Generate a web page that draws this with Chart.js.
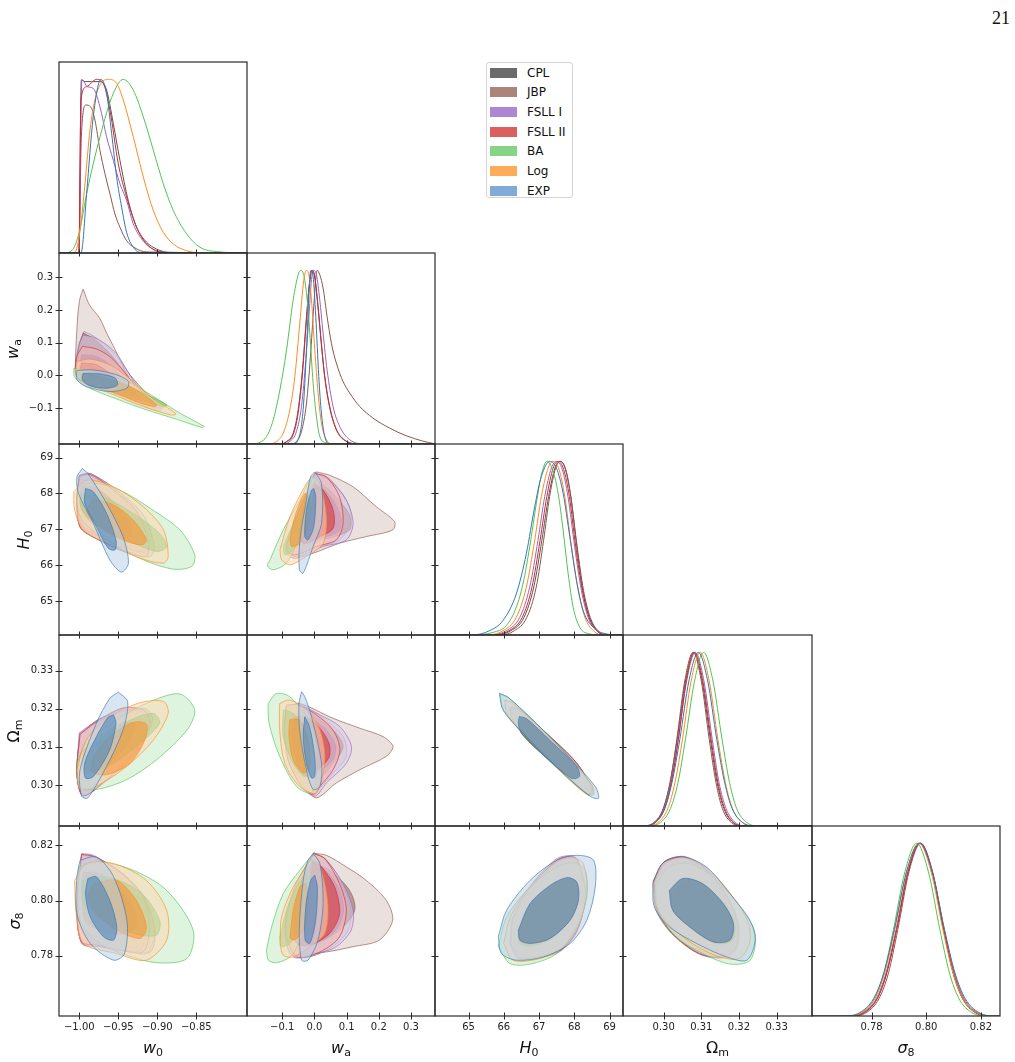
<!DOCTYPE html>
<html>
<head>
<meta charset="utf-8">
<script src="https://cdn.jsdelivr.net/npm/chart.js@4.4.1/dist/chart.umd.min.js"></script>
<style>
  body { margin: 0; background: #fff; font-family: "DejaVu Sans", sans-serif; }
  #page { position: relative; width: 1015px; height: 1062px; overflow: hidden; }
  canvas { position: absolute; }
  .lab { position: absolute; font-size: 16px; color: #111; white-space: nowrap; transform: translate(-50%, -50%); }
  .lab.rot { transform: translate(-50%, -50%) rotate(-90deg); }
  .lab sub { font-size: 11px; vertical-align: -3px; font-style: normal; }
  #pnum { position: absolute; right: 5px; top: 8px; font-family: "Liberation Serif", serif; font-size: 18px; color: #111; }
  #legend { position: absolute; left: 486px; top: 62px; width: 87px; height: 136px; box-sizing: border-box;
            border: 1px solid #d4d4d4; border-radius: 3px; font-size: 12px; color: #111; background: #fff; }
  #legend .row { height: 19.67px; display: flex; align-items: center; }
  #legend .sw { display: inline-block; width: 27px; height: 10px; margin: 0 10px 0 3px; }
</style>
</head>
<body>
<div id="page">
  <div id="pnum">21</div>
  <div id="legend"></div>
</div>
<script>
// models, drawn in this order (last one on top)
const models = ['CPL', 'JBP', 'FSLL I', 'FSLL II', 'BA', 'Log', 'EXP'];
const rgb = [[85,85,85], [140,86,75], [148,103,189], [214,39,40], [80,195,80], [255,138,31], [50,118,180]];
const legendColors = ['#6b6b6b', '#ad8479', '#ad87d6', '#dc5f5f', '#86d486', '#ffab5a', '#80abd6'];

// axis ranges and ticks
const w0Range = [-1.026, -0.785], waRange = [-0.2095, 0.3745], H0Range = [64.05, 69.38];
const OmRange = [0.2892, 0.3394], s8Range = [0.7582, 0.8270];
const w0Ticks = [-1.00, -0.95, -0.90, -0.85], w0Labels = ['\u22121.00', '\u22120.95', '\u22120.90', '\u22120.85'];
const waTicks = [-0.1, 0.0, 0.1, 0.2, 0.3], waLabels = ['\u22120.1', '0.0', '0.1', '0.2', '0.3'];
const H0Ticks = [65, 66, 67, 68, 69], H0Labels = ['65', '66', '67', '68', '69'];
const OmTicks = [0.30, 0.31, 0.32, 0.33], OmLabels = ['0.30', '0.31', '0.32', '0.33'];
const s8Ticks = [0.78, 0.80, 0.82], s8Labels = ['0.78', '0.80', '0.82'];

// 1D marginals: [x, y, x, y, ...], peak normalised to 1
const w0_1d = {
  'CPL': [-1.026,0, -1.0005,0, -0.9974,0.996, -0.9927,0.987, -0.9842,0.987, -0.9735,0.987, -0.965,0.938, -0.9564,0.746, -0.9479,0.534, -0.9372,0.302, -0.9265,0.148, -0.9137,0.062, -0.9009,0.023, -0.8838,0.002, -0.785,0],
  'JBP': [-1.026,0, -1.0005,0, -0.9974,0.669, -0.9915,0.852, -0.9855,0.842, -0.9799,0.765, -0.9735,0.592, -0.9671,0.457, -0.9607,0.341, -0.9543,0.225, -0.9479,0.148, -0.9393,0.071, -0.9286,0.029, -0.9137,0.006, -0.785,0],
  'FSLL I': [-1.026,0, -1.0005,0, -0.9966,1.0, -0.9897,0.958, -0.9821,0.948, -0.9735,0.842, -0.965,0.669, -0.9564,0.534, -0.9479,0.399, -0.9393,0.302, -0.9308,0.168, -0.9201,0.081, -0.9094,0.033, -0.8966,0.006, -0.785,0],
  'FSLL II': [-1.026,0, -1.0005,0, -0.9979,0.881, -0.9906,0.958, -0.9778,1.0, -0.9692,0.977, -0.9607,0.823, -0.95,0.514, -0.9393,0.322, -0.9265,0.148, -0.9137,0.052, -0.9009,0.013, -0.8838,0.002, -0.785,0],
  'BA': [-1.026,0, -1.0205,0, -1.0098,0.013, -1.0,0.12, -0.9906,0.341, -0.9735,0.669, -0.9564,0.919, -0.9436,1.0, -0.9308,0.938, -0.9179,0.784, -0.9051,0.592, -0.8923,0.399, -0.8795,0.245, -0.8624,0.110, -0.8453,0.033, -0.8239,0.008, -0.785,0],
  'Log': [-1.026,0, -1.012,0, -1.0056,0.004, -0.9991,0.129, -0.9927,0.399, -0.9863,0.707, -0.9778,0.919, -0.9628,1.0, -0.9521,0.977, -0.9436,0.881, -0.9308,0.669, -0.9179,0.437, -0.9051,0.245, -0.8923,0.119, -0.8795,0.052, -0.8624,0.013, -0.8453,0.002, -0.785,0],
  'EXP': [-1.026,0, -0.999,0, -0.997,0.01, -0.9906,0.341, -0.9821,0.784, -0.9722,1.0, -0.965,0.919, -0.9585,0.688, -0.9521,0.437, -0.9457,0.264, -0.9393,0.119, -0.9308,0.033, -0.9201,0.002, -0.785,0]
};
const wa_1d = {
  'CPL': [-0.2095,0, -0.1072,0, -0.0866,0.015, -0.066,0.063, -0.0505,0.198, -0.0371,0.428, -0.0247,0.735, -0.0144,0.946, -0.0072,1.0, 0.001,0.965, 0.0113,0.792, 0.0216,0.581, 0.032,0.390, 0.0474,0.217, 0.068,0.083, 0.099,0.015, 0.1402,0, 0.3745,0],
  'JBP': [-0.2095,0, -0.0763,0, -0.0557,0.015, -0.0402,0.073, -0.0247,0.236, -0.0124,0.505, -0.0021,0.793, 0.0082,1.0, 0.0165,0.975, 0.0268,0.898, 0.0392,0.735, 0.0526,0.581, 0.068,0.466, 0.0887,0.361, 0.1093,0.294, 0.1402,0.217, 0.1814,0.150, 0.233,0.092, 0.2845,0.048, 0.3361,0.017, 0.3722,0.002],
  'FSLL I': [-0.2095,0, -0.0969,0, -0.0763,0.015, -0.0557,0.073, -0.0402,0.217, -0.0268,0.486, -0.0165,0.754, -0.0082,0.965, -0.0021,1.0, 0.0062,0.975, 0.0165,0.831, 0.0268,0.639, 0.0392,0.428, 0.0577,0.217, 0.0784,0.102, 0.1093,0.025, 0.1608,0, 0.3745,0],
  'FSLL II': [-0.2095,0, -0.1072,0, -0.0866,0.012, -0.066,0.054, -0.0505,0.179, -0.0371,0.409, -0.0247,0.716, -0.0144,0.937, -0.0082,1.0, 0.0,0.969, 0.0103,0.802, 0.0206,0.591, 0.031,0.399, 0.0454,0.227, 0.066,0.092, 0.097,0.019, 0.1402,0, 0.3745,0],
  'BA': [-0.2095,0, -0.1897,0, -0.1691,0.010, -0.1485,0.044, -0.1278,0.140, -0.1072,0.313, -0.0866,0.543, -0.066,0.831, -0.0505,0.975, -0.0433,1.0, -0.0351,0.985, -0.0247,0.869, -0.0144,0.639, -0.0041,0.351, 0.0062,0.159, 0.0165,0.044, 0.0371,0.006, 0.0577,0, 0.3745,0],
  'Log': [-0.2095,0, -0.1381,0, -0.1175,0.015, -0.0969,0.063, -0.0763,0.198, -0.0608,0.390, -0.0454,0.697, -0.033,0.945, -0.0247,1.0, -0.0165,0.965, -0.0093,0.831, 0.001,0.543, 0.0113,0.294, 0.0216,0.121, 0.0371,0.025, 0.0577,0, 0.3745,0],
  'EXP': [-0.2095,0, -0.066,0, -0.0505,0.025, -0.0351,0.198, -0.0247,0.543, -0.0165,0.889, -0.0113,1.0, -0.0041,0.965, 0.0041,0.735, 0.0134,0.390, 0.0216,0.179, 0.032,0.044, 0.0474,0, 0.3745,0]
};
const H0_1d = {
  'CPL': [64.05,0, 65.75,0, 66.2,0.025, 66.57,0.10, 66.85,0.276, 67.08,0.546, 67.27,0.797, 67.45,0.961, 67.59,1, 67.75,0.952, 67.9,0.797, 68.08,0.508, 68.26,0.257, 68.45,0.102, 68.67,0.025, 68.95,0, 69.38,0],
  'JBP': [64.05,0, 65.9,0, 66.3,0.025, 66.65,0.10, 66.92,0.276, 67.13,0.546, 67.3,0.797, 67.47,0.961, 67.61,1, 67.76,0.952, 67.9,0.797, 68.07,0.508, 68.24,0.257, 68.42,0.102, 68.63,0.025, 68.9,0, 69.38,0],
  'FSLL I': [64.05,0, 65.6,0, 66.07,0.025, 66.45,0.10, 66.735,0.276, 66.97,0.546, 67.16,0.797, 67.35,0.961, 67.49,1, 67.66,0.952, 67.82,0.797, 68.01,0.508, 68.2,0.257, 68.39,0.102, 68.63,0.025, 68.9,0, 69.38,0],
  'FSLL II': [64.05,0, 65.7,0, 66.15,0.025, 66.52,0.10, 66.8,0.276, 67.03,0.546, 67.22,0.797, 67.4,0.961, 67.54,1, 67.7,0.952, 67.86,0.797, 68.04,0.508, 68.23,0.257, 68.42,0.102, 68.65,0.025, 68.95,0, 69.38,0],
  'BA': [64.05,0, 65.123,0, 65.692,0.015, 66.071,0.054, 66.355,0.160, 66.545,0.295, 66.735,0.508, 66.924,0.759, 67.066,0.923, 67.227,1, 67.398,0.942, 67.54,0.817, 67.682,0.604, 67.825,0.353, 67.967,0.160, 68.156,0.044, 68.441,0.006, 68.725,0, 69.38,0],
  'Log': [64.05,0, 65.502,0, 65.976,0.025, 66.355,0.102, 66.64,0.276, 66.877,0.546, 67.066,0.797, 67.256,0.961, 67.398,1, 67.569,0.952, 67.73,0.797, 67.919,0.508, 68.109,0.257, 68.299,0.102, 68.536,0.025, 68.82,0, 69.38,0],
  'EXP': [64.05,0, 65.123,0, 65.597,0.025, 65.976,0.083, 66.355,0.237, 66.64,0.469, 66.877,0.739, 67.066,0.913, 67.303,1, 67.493,0.961, 67.682,0.817, 67.872,0.566, 68.062,0.315, 68.251,0.141, 68.536,0.044, 68.915,0.006, 69.294,0, 69.38,0]
};
const Om_1d = {
  'CPL': [0.2892,0, 0.2946,0, 0.2975,0.02, 0.2999,0.1, 0.3017,0.25, 0.3036,0.5, 0.3058,0.835, 0.3080,1, 0.3102,0.835, 0.3124,0.5, 0.3142,0.25, 0.3160,0.1, 0.3184,0.02, 0.3213,0, 0.3394,0],
  'JBP': [0.2892,0, 0.2947,0, 0.2976,0.02, 0.2999,0.1, 0.3017,0.25, 0.3035,0.5, 0.3056,0.835, 0.3078,1, 0.3100,0.835, 0.3121,0.5, 0.3139,0.25, 0.3156,0.1, 0.3180,0.02, 0.3209,0, 0.3394,0],
  'FSLL I': [0.2892,0, 0.2947,0, 0.2978,0.02, 0.3003,0.1, 0.3021,0.25, 0.3039,0.5, 0.3061,0.835, 0.3084,1, 0.3107,0.835, 0.3129,0.5, 0.3147,0.25, 0.3166,0.1, 0.3190,0.02, 0.3221,0, 0.3394,0],
  'FSLL II': [0.2892,0, 0.2949,0, 0.2978,0.02, 0.3002,0.1, 0.3020,0.25, 0.3039,0.5, 0.3060,0.835, 0.3082,1, 0.3104,0.835, 0.3126,0.5, 0.3144,0.25, 0.3162,0.1, 0.3186,0.02, 0.3215,0, 0.3394,0],
  'BA': [0.2892,0, 0.2958,0, 0.2991,0.02, 0.3018,0.1, 0.3038,0.25, 0.3058,0.5, 0.3082,0.835, 0.3106,1, 0.3131,0.835, 0.3155,0.5, 0.3175,0.25, 0.3194,0.1, 0.3221,0.02, 0.3254,0, 0.3394,0],
  'Log': [0.2892,0, 0.2953,0, 0.2985,0.02, 0.3011,0.1, 0.3030,0.25, 0.3050,0.5, 0.3073,0.835, 0.3097,1, 0.3121,0.835, 0.3144,0.5, 0.3164,0.25, 0.3183,0.1, 0.3209,0.02, 0.3241,0, 0.3394,0],
  'EXP': [0.2892,0, 0.2941,0, 0.2974,0.02, 0.3002,0.1, 0.3022,0.25, 0.3043,0.5, 0.3067,0.835, 0.3092,1, 0.3117,0.835, 0.3141,0.5, 0.3162,0.25, 0.3182,0.1, 0.3210,0.02, 0.3243,0, 0.3394,0]
};
const s8_1d = {
  'CPL': [0.7582,0, 0.7714,0, 0.7773,0.02, 0.7820,0.1, 0.7855,0.25, 0.7891,0.5, 0.7933,0.835, 0.7977,1, 0.8021,0.835, 0.8063,0.5, 0.8099,0.25, 0.8134,0.1, 0.8181,0.02, 0.8240,0, 0.8270,0],
  'JBP': [0.7582,0, 0.7724,0, 0.7781,0.02, 0.7827,0.1, 0.7862,0.25, 0.7896,0.5, 0.7937,0.835, 0.7980,1, 0.8023,0.835, 0.8064,0.5, 0.8098,0.25, 0.8133,0.1, 0.8179,0.02, 0.8236,0, 0.8270,0],
  'FSLL I': [0.7582,0, 0.7708,0, 0.7768,0.02, 0.7817,0.1, 0.7853,0.25, 0.7890,0.5, 0.7933,0.835, 0.7978,1, 0.8023,0.835, 0.8066,0.5, 0.8103,0.25, 0.8139,0.1, 0.8188,0.02, 0.8248,0, 0.8270,0],
  'FSLL II': [0.7582,0, 0.7715,0, 0.7774,0.02, 0.7821,0.1, 0.7856,0.25, 0.7892,0.5, 0.7934,0.835, 0.7978,1, 0.8022,0.835, 0.8064,0.5, 0.8100,0.25, 0.8135,0.1, 0.8182,0.02, 0.8241,0, 0.8270,0],
  'BA': [0.7582,0, 0.7706,0, 0.7763,0.02, 0.7810,0.1, 0.7845,0.25, 0.7880,0.5, 0.7922,0.835, 0.7965,1, 0.8008,0.835, 0.8050,0.5, 0.8085,0.25, 0.8120,0.1, 0.8167,0.02, 0.8224,0, 0.8270,0],
  'Log': [0.7582,0, 0.7703,0, 0.7763,0.02, 0.7812,0.1, 0.7848,0.25, 0.7885,0.5, 0.7928,0.835, 0.7973,1, 0.8018,0.835, 0.8061,0.5, 0.8098,0.25, 0.8134,0.1, 0.8183,0.02, 0.8243,0, 0.8270,0],
  'EXP': [0.7582,0, 0.7694,0, 0.7757,0.02, 0.7807,0.1, 0.7845,0.25, 0.7883,0.5, 0.7928,0.835, 0.7975,1, 0.8022,0.835, 0.8067,0.5, 0.8105,0.25, 0.8143,0.1, 0.8193,0.02, 0.8256,0, 0.8270,0]
};

// 2D contours: per model [95% outline, 68% outline], each [x, y, x, y, ...]
const w0_wa = {
  'CPL': [[-0.994,0.135, -0.982,0.121, -0.965,0.089, -0.948,0.048, -0.935,0.002, -0.914,-0.054, -0.893,-0.097, -0.901,-0.101, -0.939,-0.068, -0.974,-0.037, -1.003,-0.005, -1.001,0.089],
          [-0.997,0.058, -0.978,0.053, -0.956,0.017, -0.935,-0.034, -0.920,-0.064, -0.933,-0.061, -0.974,-0.026, -0.999,-0.003]],
  'JBP': [[-0.995,0.264, -0.987,0.216, -0.974,0.176, -0.965,0.130, -0.954,0.079, -0.944,0.028, -0.935,-0.013, -0.918,-0.054, -0.894,-0.103, -0.901,-0.107, -0.931,-0.080, -0.961,-0.049, -0.991,-0.018, -1.004,-0.001, -1.005,0.038, -1.002,0.181, -0.999,0.237],
          [-0.995,0.130, -0.980,0.109, -0.961,0.068, -0.946,0.022, -0.931,-0.023, -0.914,-0.059, -0.922,-0.061, -0.961,-0.036, -0.999,-0.008, -1.001,0.079]],
  'FSLL I': [[-0.995,0.124, -0.982,0.117, -0.965,0.094, -0.950,0.060, -0.942,0.028, -0.922,-0.044, -0.897,-0.095, -0.903,-0.098, -0.939,-0.067, -0.974,-0.036, -1.003,-0.005, -1.001,0.089],
             [-0.997,0.063, -0.978,0.058, -0.959,0.028, -0.939,-0.023, -0.922,-0.064, -0.935,-0.059, -0.974,-0.026, -0.999,-0.001]],
  'FSLL II': [[-0.996,0.089, -0.978,0.081, -0.961,0.058, -0.946,0.022, -0.927,-0.034, -0.901,-0.090, -0.907,-0.095, -0.939,-0.066, -0.974,-0.036, -1.003,-0.005, -1.003,0.058],
              [-0.997,0.038, -0.978,0.033, -0.961,0.007, -0.939,-0.029, -0.927,-0.054, -0.939,-0.049, -0.974,-0.023, -0.999,-0.003]],
  'BA': [[-1.007,0.022, -0.974,0.005, -0.939,-0.018, -0.905,-0.064, -0.871,-0.115, -0.840,-0.156, -0.843,-0.159, -0.875,-0.134, -0.914,-0.105, -0.952,-0.072, -0.991,-0.034, -1.006,-0.005],
         [-1.001,0.009, -0.965,-0.008, -0.922,-0.049, -0.888,-0.090, -0.892,-0.095, -0.931,-0.069, -0.974,-0.039, -1.001,-0.013]],
  'Log': [[-1.003,0.043, -0.986,0.050, -0.961,0.033, -0.939,-0.003, -0.909,-0.064, -0.876,-0.117, -0.882,-0.121, -0.918,-0.095, -0.961,-0.054, -0.999,-0.013, -1.004,0.007],
          [-0.997,0.005, -0.974,-0.003, -0.939,-0.029, -0.914,-0.064, -0.901,-0.093, -0.918,-0.087, -0.956,-0.052, -0.995,-0.023]],
  'EXP': [[-1.003,0.015, -0.982,0.017, -0.952,0.002, -0.937,-0.018, -0.939,-0.039, -0.961,-0.049, -0.991,-0.034, -1.003,-0.013],
          [-0.995,0.007, -0.974,0.005, -0.954,-0.008, -0.951,-0.029, -0.965,-0.039, -0.986,-0.032, -0.996,-0.013]]
};
const w0_H0 = {
  'CPL': [[-1.000,68.509, -0.986,68.556, -0.952,68.093, -0.918,67.398, -0.904,66.519, -0.909,66.241, -0.939,66.352, -0.978,66.731, -0.999,67.056, -1.003,67.815],
          [-0.997,68.204, -0.978,68.167, -0.948,67.630, -0.929,67.028, -0.933,66.704, -0.961,66.907, -0.989,67.259, -0.999,67.722]],
  'JBP': [[-1.000,68.481, -0.989,68.528, -0.961,68.139, -0.931,67.537, -0.914,66.796, -0.916,66.426, -0.939,66.472, -0.974,66.796, -0.997,67.093, -1.003,67.815],
          [-0.997,68.167, -0.982,68.139, -0.959,67.722, -0.944,67.167, -0.948,66.889, -0.969,67.028, -0.990,67.352, -0.999,67.722]],
  'FSLL I': [[-0.999,68.509, -0.986,68.556, -0.961,68.185, -0.931,67.630, -0.909,66.796, -0.912,66.380, -0.931,66.426, -0.974,66.796, -0.997,67.120, -1.003,67.815],
             [-0.997,68.185, -0.982,68.185, -0.956,67.769, -0.939,67.167, -0.944,66.843, -0.965,66.981, -0.989,67.306, -0.999,67.722]],
  'FSLL II': [[-1.000,68.481, -0.986,68.528, -0.956,68.093, -0.927,67.491, -0.912,66.704, -0.914,66.241, -0.939,66.380, -0.978,66.750, -0.999,67.074, -1.003,67.815],
              [-0.997,68.185, -0.980,68.167, -0.952,67.676, -0.933,67.074, -0.937,66.750, -0.963,66.935, -0.989,67.278, -0.999,67.722]],
  'BA': [[-1.001,68.185, -0.982,68.296, -0.948,68.093, -0.909,67.583, -0.871,66.981, -0.852,66.287, -0.856,65.963, -0.880,65.889, -0.918,66.148, -0.961,66.657, -0.995,67.213, -1.003,67.722],
         [-0.998,68.0, -0.974,67.954, -0.931,67.444, -0.897,66.889, -0.888,66.519, -0.901,66.380, -0.939,66.704, -0.978,67.167, -0.997,67.537]],
  'Log': [[-1.007,68.046, -0.991,68.370, -0.956,68.185, -0.918,67.630, -0.892,66.981, -0.886,66.241, -0.892,66.056, -0.922,66.194, -0.961,66.565, -0.995,66.981, -1.006,67.537],
          [-0.982,67.861, -0.956,67.676, -0.931,67.259, -0.914,66.704, -0.920,66.565, -0.944,66.704, -0.974,67.074, -0.990,67.491]],
  'EXP': [[-0.996,68.694, -0.989,68.556, -0.965,67.722, -0.944,66.796, -0.937,66.056, -0.946,65.806, -0.961,66.148, -0.982,67.167, -1.001,68.0, -1.003,68.463],
          [-0.992,68.139, -0.982,68.046, -0.965,67.444, -0.953,66.704, -0.954,66.426, -0.963,66.472, -0.978,67.074, -0.993,67.722]]
};
const w0_Om = {
  'CPL': [[-0.999,0.3135, -0.974,0.3174, -0.939,0.3197, -0.914,0.3199, -0.906,0.3171, -0.927,0.3083, -0.965,0.3012, -0.995,0.2972, -1.003,0.3031],
          [-0.995,0.3092, -0.974,0.3129, -0.946,0.3160, -0.928,0.3163, -0.927,0.3135, -0.946,0.3083, -0.974,0.3042, -0.993,0.3033]],
  'JBP': [[-0.999,0.3135, -0.974,0.3168, -0.944,0.3202, -0.922,0.3197, -0.914,0.3162, -0.935,0.3083, -0.965,0.3015, -0.995,0.2972, -1.003,0.3031],
          [-0.995,0.3092, -0.974,0.3127, -0.950,0.3158, -0.935,0.3160, -0.934,0.3135, -0.950,0.3085, -0.974,0.3045, -0.993,0.3035]],
  'FSLL I': [[-1.000,0.3137, -0.984,0.3159, -0.961,0.3179, -0.939,0.3197, -0.914,0.3192, -0.909,0.3153, -0.931,0.3075, -0.965,0.3014, -0.995,0.2970, -1.003,0.3022],
             [-0.995,0.3092, -0.974,0.3131, -0.948,0.3162, -0.933,0.3166, -0.931,0.3140, -0.948,0.3083, -0.974,0.3040, -0.993,0.3031]],
  'FSLL II': [[-0.999,0.3133, -0.974,0.3172, -0.944,0.3202, -0.918,0.3197, -0.910,0.3162, -0.931,0.3083, -0.965,0.3014, -0.995,0.2972, -1.003,0.3031],
              [-0.995,0.3090, -0.974,0.3128, -0.947,0.3160, -0.931,0.3163, -0.930,0.3137, -0.947,0.3084, -0.974,0.3041, -0.993,0.3032]],
  'BA': [[-1.003,0.3057, -0.991,0.3110, -0.952,0.3171, -0.909,0.3219, -0.871,0.3239, -0.852,0.3197, -0.862,0.3144, -0.901,0.3066, -0.939,0.3014, -0.978,0.2988, -0.999,0.2996],
         [-0.995,0.3066, -0.974,0.3118, -0.939,0.3166, -0.905,0.3188, -0.897,0.3162, -0.922,0.3110, -0.956,0.3057, -0.986,0.3035]],
  'Log': [[-1.003,0.3040, -0.991,0.3118, -0.961,0.3179, -0.922,0.3216, -0.892,0.3219, -0.886,0.3188, -0.905,0.3118, -0.939,0.3049, -0.978,0.2996, -0.999,0.2988],
          [-0.982,0.3075, -0.961,0.3127, -0.931,0.3164, -0.914,0.3160, -0.916,0.3118, -0.935,0.3057, -0.965,0.3027, -0.984,0.3035]],
  'EXP': [[-0.950,0.3244, -0.938,0.3219, -0.944,0.3144, -0.965,0.3049, -0.989,0.2966, -0.997,0.2970, -0.999,0.3040, -0.978,0.3162, -0.961,0.3227],
          [-0.956,0.3184, -0.953,0.3162, -0.961,0.3092, -0.982,0.3022, -0.992,0.3018, -0.993,0.3057, -0.978,0.3127, -0.963,0.3178]]
};
const w0_s8 = {
  'CPL': [[-0.997,0.8167, -0.980,0.8158, -0.944,0.8098, -0.914,0.8001, -0.903,0.7880, -0.909,0.7814, -0.939,0.7818, -0.974,0.7835, -0.997,0.7847, -1.003,0.7989],
          [-0.995,0.8100, -0.978,0.8100, -0.952,0.8055, -0.930,0.7980, -0.925,0.7910, -0.940,0.7880, -0.970,0.7890, -0.993,0.7930]],
  'JBP': [[-0.997,0.8164, -0.982,0.8155, -0.952,0.8098, -0.927,0.8013, -0.916,0.7905, -0.922,0.7820, -0.952,0.7823, -0.978,0.7839, -0.997,0.7851, -1.003,0.7989],
          [-0.995,0.8098, -0.980,0.8095, -0.956,0.8050, -0.937,0.7980, -0.933,0.7910, -0.947,0.7882, -0.972,0.7892, -0.993,0.7930]],
  'FSLL I': [[-0.997,0.8170, -0.982,0.8164, -0.952,0.8110, -0.922,0.8025, -0.903,0.7893, -0.914,0.7808, -0.939,0.7820, -0.974,0.7833, -0.997,0.7845, -1.003,0.7989],
             [-0.995,0.8102, -0.978,0.8102, -0.954,0.8060, -0.933,0.7985, -0.927,0.7910, -0.942,0.7878, -0.970,0.7888, -0.993,0.7928]],
  'FSLL II': [[-0.997,0.8167, -0.982,0.8160, -0.948,0.8104, -0.918,0.8013, -0.910,0.7905, -0.918,0.7814, -0.948,0.7820, -0.978,0.7839, -0.997,0.7851, -1.003,0.7989],
              [-0.995,0.8100, -0.978,0.8100, -0.953,0.8057, -0.932,0.7982, -0.927,0.7910, -0.942,0.7880, -0.970,0.7890, -0.993,0.7930]],
  'BA': [[-1.001,0.8122, -0.974,0.8140, -0.931,0.8110, -0.888,0.8037, -0.854,0.7893, -0.862,0.7790, -0.901,0.7775, -0.939,0.7802, -0.974,0.7845, -0.999,0.7929],
         [-0.997,0.8073, -0.965,0.8086, -0.922,0.8031, -0.897,0.7929, -0.901,0.7875, -0.931,0.7881, -0.969,0.7929, -0.995,0.7989]],
  'Log': [[-1.006,0.8073, -0.991,0.8134, -0.956,0.8134, -0.914,0.8073, -0.888,0.7965, -0.888,0.7857, -0.914,0.7784, -0.952,0.7808, -0.995,0.7845, -1.004,0.7953],
          [-0.982,0.8061, -0.952,0.8073, -0.927,0.8001, -0.914,0.7905, -0.922,0.7863, -0.952,0.7893, -0.978,0.7953, -0.989,0.8013]],
  'EXP': [[-0.999,0.8146, -0.978,0.8158, -0.956,0.8086, -0.939,0.7929, -0.942,0.7808, -0.956,0.7784, -0.986,0.7845, -1.003,0.7953, -1.003,0.8086],
          [-0.989,0.8080, -0.978,0.8086, -0.961,0.8001, -0.952,0.7905, -0.956,0.7857, -0.969,0.7869, -0.986,0.7941, -0.992,0.8025]]
};
const wa_H0 = {
  'CPL': [[0.001,68.556, 0.042,68.444, 0.099,67.815, 0.114,67.259, 0.078,66.704, 0.006,66.500, -0.061,66.287, -0.087,66.472, -0.051,67.444],
          [-0.004,68.278, 0.030,68.093, 0.065,67.537, 0.066,67.028, 0.020,66.796, -0.035,66.611, -0.045,67.074, -0.025,67.907]],
  'JBP': [[0.006,68.602, 0.047,68.509, 0.120,68.185, 0.192,67.630, 0.249,67.213, 0.243,66.981, 0.161,66.796, 0.078,66.611, -0.004,66.333, -0.066,66.194, -0.087,66.426, -0.045,67.444],
          [0.001,68.370, 0.047,68.093, 0.109,67.398, 0.109,66.981, 0.027,66.704, -0.035,66.519, -0.045,66.981, -0.020,67.907]],
  'FSLL I': [[0.001,68.574, 0.047,68.370, 0.099,67.815, 0.120,67.167, 0.099,66.704, 0.027,66.519, -0.056,66.241, -0.087,66.426, -0.051,67.444],
             [-0.004,68.278, 0.037,68.046, 0.078,67.444, 0.078,66.981, 0.022,66.750, -0.035,66.611, -0.045,67.074, -0.025,67.907]],
  'FSLL II': [[0.001,68.556, 0.037,68.463, 0.078,67.907, 0.089,67.167, 0.068,66.704, 0.006,66.519, -0.061,66.287, -0.087,66.472, -0.051,67.444],
              [-0.004,68.278, 0.027,68.093, 0.058,67.537, 0.058,67.028, 0.017,66.796, -0.035,66.611, -0.045,67.074, -0.025,67.907]],
  'BA': [[-0.138,66.148, -0.097,66.981, -0.045,67.815, -0.009,68.463, 0.001,68.389, -0.014,67.630, -0.045,66.796, -0.087,66.056, -0.128,65.870, -0.146,65.981],
         [-0.097,66.519, -0.061,67.259, -0.025,67.954, -0.012,67.861, -0.030,67.074, -0.066,66.426, -0.092,66.287]],
  'Log': [[-0.107,66.426, -0.076,67.352, -0.025,68.278, -0.004,68.463, 0.017,68.278, 0.037,67.352, 0.027,66.611, -0.025,66.241, -0.076,66.009, -0.102,66.148],
          [-0.076,66.704, -0.061,67.352, -0.030,68.000, -0.014,67.815, -0.020,67.074, -0.045,66.611, -0.071,66.519]],
  'EXP': [[0.001,68.602, 0.022,68.278, 0.022,67.167, -0.004,66.519, -0.035,65.778, -0.047,65.870, -0.045,66.704, -0.025,67.815, -0.012,68.463],
          [-0.002,68.139, 0.004,67.907, -0.002,67.074, -0.020,66.704, -0.030,66.796, -0.025,67.537, -0.009,68.093]]
};
const wa_Om = {
  'CPL': [[-0.087,0.3205, -0.046,0.3207, 0.027,0.3175, 0.089,0.3127, 0.099,0.3075, 0.058,0.3031, 0.017,0.2992, -0.002,0.2973, -0.040,0.2996, -0.082,0.3066, -0.093,0.3144],
          [-0.066,0.3175, -0.030,0.3178, 0.020,0.3150, 0.055,0.3110, 0.055,0.3075, 0.020,0.3045, -0.015,0.3020, -0.045,0.3045, -0.068,0.3110]],
  'JBP': [[-0.087,0.3205, -0.046,0.3214, 0.058,0.3175, 0.141,0.3149, 0.213,0.3127, 0.244,0.3101, 0.223,0.3075, 0.141,0.3040, 0.068,0.3005, 0.006,0.2966, -0.030,0.2996, -0.077,0.3066, -0.092,0.3144],
          [-0.066,0.3188, -0.015,0.3188, 0.058,0.3144, 0.089,0.3101, 0.058,0.3057, 0.006,0.3014, -0.046,0.3040, -0.066,0.3118]],
  'FSLL I': [[-0.087,0.3210, -0.046,0.3210, 0.017,0.3184, 0.079,0.3153, 0.115,0.3101, 0.099,0.3057, 0.037,0.3005, 0.001,0.2970, -0.040,0.2996, -0.082,0.3066, -0.093,0.3144],
             [-0.066,0.3178, -0.028,0.3180, 0.030,0.3150, 0.065,0.3105, 0.058,0.3068, 0.015,0.3035, -0.020,0.3020, -0.048,0.3045, -0.068,0.3110]],
  'FSLL II': [[-0.087,0.3210, -0.051,0.3210, 0.006,0.3184, 0.058,0.3144, 0.079,0.3092, 0.058,0.3040, 0.017,0.2996, -0.004,0.2975, -0.040,0.2996, -0.082,0.3066, -0.093,0.3144],
              [-0.066,0.3178, -0.032,0.3180, 0.010,0.3155, 0.045,0.3110, 0.045,0.3072, 0.010,0.3040, -0.018,0.3020, -0.046,0.3045, -0.068,0.3110]],
  'BA': [[-0.144,0.3214, -0.118,0.3240, -0.077,0.3232, -0.025,0.3179, 0.001,0.3118, 0.006,0.3031, -0.009,0.2979, -0.056,0.2996, -0.108,0.3075, -0.141,0.3162],
         [-0.097,0.3197, -0.066,0.3188, -0.025,0.3136, -0.015,0.3057, -0.030,0.3022, -0.066,0.3057, -0.097,0.3127]],
  'Log': [[-0.108,0.3214, -0.077,0.3223, -0.025,0.3197, 0.017,0.3144, 0.032,0.3066, 0.006,0.2979, -0.046,0.2996, -0.092,0.3057, -0.108,0.3144],
          [-0.077,0.3171, -0.046,0.3171, -0.020,0.3118, -0.015,0.3049, -0.035,0.3031, -0.066,0.3066, -0.079,0.3127]],
  'EXP': [[-0.040,0.3245, -0.030,0.3232, -0.009,0.3179, 0.022,0.3057, 0.017,0.2996, -0.004,0.2988, -0.025,0.3040, -0.046,0.3144, -0.048,0.3214],
          [-0.030,0.3179, -0.015,0.3153, 0.001,0.3075, 0.001,0.3022, -0.009,0.3018, -0.025,0.3057, -0.035,0.3127]]
};
const wa_s8 = {
  'CPL': [[-0.002,0.8173, 0.037,0.8148, 0.089,0.8055, 0.114,0.7953, 0.099,0.7881, 0.037,0.7820, -0.045,0.7796, -0.092,0.7893, -0.061,0.8049],
          [-0.004,0.8140, 0.025,0.8115, 0.068,0.8045, 0.080,0.7955, 0.052,0.7885, -0.012,0.7842, -0.056,0.7848, -0.061,0.7953, -0.035,0.8086]],
  'JBP': [[0.001,0.8170, 0.037,0.8164, 0.099,0.8122, 0.161,0.8073, 0.223,0.8001, 0.243,0.7929, 0.202,0.7857, 0.120,0.7833, 0.037,0.7814, -0.025,0.7808, -0.076,0.7808, -0.087,0.7905, -0.056,0.8049],
          [0.001,0.8134, 0.047,0.8110, 0.109,0.8037, 0.125,0.7965, 0.078,0.7893, 0.006,0.7845, -0.045,0.7845, -0.056,0.7929, -0.035,0.8061]],
  'FSLL I': [[-0.002,0.8173, 0.037,0.8146, 0.089,0.8061, 0.120,0.7965, 0.114,0.7893, 0.068,0.7833, 0.006,0.7808, -0.066,0.7796, -0.092,0.7893, -0.061,0.8049],
             [-0.004,0.8140, 0.030,0.8115, 0.075,0.8045, 0.090,0.7960, 0.060,0.7885, -0.010,0.7842, -0.056,0.7848, -0.061,0.7953, -0.035,0.8086]],
  'FSLL II': [[-0.002,0.8170, 0.032,0.8152, 0.078,0.8061, 0.099,0.7965, 0.078,0.7869, 0.017,0.7814, -0.056,0.7796, -0.089,0.7893, -0.061,0.8049],
              [-0.004,0.8146, 0.022,0.8122, 0.063,0.8049, 0.078,0.7953, 0.047,0.7881, -0.014,0.7839, -0.056,0.7845, -0.061,0.7953, -0.035,0.8086]],
  'BA': [[-0.149,0.7820, -0.133,0.7905, -0.097,0.8025, -0.045,0.8110, -0.014,0.8152, -0.009,0.8134, -0.025,0.7977, -0.045,0.7857, -0.076,0.7796, -0.118,0.7775, -0.143,0.7784],
         [-0.107,0.7869, -0.087,0.7965, -0.051,0.8061, -0.025,0.8098, -0.025,0.8013, -0.045,0.7905, -0.076,0.7845, -0.102,0.7833]],
  'Log': [[-0.107,0.7845, -0.102,0.7941, -0.066,0.8049, -0.025,0.8122, 0.001,0.8164, 0.027,0.8086, 0.042,0.7977, 0.032,0.7881, -0.014,0.7833, -0.066,0.7796, -0.097,0.7802],
          [-0.076,0.7863, -0.066,0.7965, -0.045,0.8049, -0.027,0.8061, -0.020,0.7977, -0.035,0.7893, -0.061,0.7857]],
  'EXP': [[-0.004,0.8170, 0.017,0.8134, 0.027,0.7989, 0.011,0.7857, -0.020,0.7784, -0.040,0.7784, -0.047,0.7893, -0.035,0.8073, -0.020,0.8146],
          [0.001,0.8092, 0.009,0.8049, 0.004,0.7929, -0.014,0.7845, -0.029,0.7857, -0.027,0.7977, -0.012,0.8073]]
};
const H0_Om = {
  'CPL': [[66.17,0.3204, 66.42,0.3200, 67.22,0.3135, 68.07,0.3057, 68.50,0.2988, 68.40,0.2974, 67.69,0.3030, 66.84,0.3109, 66.22,0.3174],
          [66.50,0.3176, 66.69,0.3171, 67.33,0.3115, 68.05,0.3049, 68.11,0.3025, 67.92,0.3020, 67.22,0.3071, 66.53,0.3133, 66.44,0.3159]],
  'JBP': [[66.20,0.3200, 66.42,0.3198, 67.20,0.3135, 68.00,0.3062, 68.40,0.2998, 68.32,0.2983, 67.65,0.3035, 66.84,0.3109, 66.25,0.3172],
          [66.52,0.3174, 66.70,0.3170, 67.32,0.3116, 68.00,0.3052, 68.06,0.3030, 67.88,0.3024, 67.20,0.3073, 66.55,0.3132, 66.46,0.3157]],
  'FSLL I': [[66.24,0.3196, 66.45,0.3195, 67.22,0.3133, 68.07,0.3056, 68.48,0.2990, 68.39,0.2976, 67.69,0.3031, 66.86,0.3108, 66.27,0.3170],
             [66.52,0.3175, 66.70,0.3171, 67.33,0.3115, 68.05,0.3049, 68.11,0.3026, 67.92,0.3021, 67.22,0.3071, 66.54,0.3133, 66.45,0.3158]],
  'FSLL II': [[66.19,0.3202, 66.43,0.3199, 67.23,0.3134, 68.08,0.3056, 68.50,0.2987, 68.41,0.2974, 67.70,0.3030, 66.85,0.3109, 66.23,0.3173],
              [66.50,0.3176, 66.69,0.3172, 67.34,0.3115, 68.06,0.3049, 68.12,0.3025, 67.93,0.3020, 67.23,0.3071, 66.53,0.3133, 66.44,0.3159]],
  'BA': [[65.90,0.3238, 66.15,0.3228, 67.05,0.3150, 67.90,0.3068, 68.50,0.3000, 68.55,0.2975, 68.35,0.2975, 67.60,0.3036, 66.75,0.3114, 66.00,0.3194],
         [66.47,0.3178, 66.67,0.3172, 67.33,0.3115, 68.06,0.3048, 68.12,0.3024, 67.92,0.3019, 67.22,0.3070, 66.52,0.3133, 66.43,0.3160]],
  'Log': [[66.03,0.3223, 66.25,0.3215, 67.10,0.3143, 67.95,0.3063, 68.50,0.2998, 68.52,0.2978, 68.33,0.2978, 67.62,0.3035, 66.78,0.3112, 66.10,0.3184],
          [66.50,0.3175, 66.69,0.3170, 67.33,0.3114, 68.05,0.3048, 68.10,0.3025, 67.90,0.3020, 67.22,0.3071, 66.54,0.3131, 66.45,0.3158]],
  'EXP': [[65.872,0.3241, 66.128,0.3230, 67.028,0.3152, 67.882,0.3070, 68.592,0.2996, 68.687,0.2965, 68.450,0.2970, 67.597,0.3039, 66.744,0.3117, 65.986,0.3196],
          [66.441,0.3180, 66.649,0.3174, 67.313,0.3117, 68.071,0.3048, 68.147,0.3022, 67.929,0.3017, 67.218,0.3070, 66.507,0.3135, 66.412,0.3161]]
};
const H0_s8 = {
  'CPL': [[66.18,0.7845, 66.27,0.7941, 66.84,0.8061, 67.50,0.8146, 67.88,0.8160, 68.07,0.8146, 68.31,0.8025, 68.07,0.7893, 67.60,0.7820, 66.93,0.7796, 66.41,0.7794],
          [66.45,0.7893, 66.76,0.7989, 67.32,0.8055, 67.79,0.8083, 68.03,0.8067, 68.08,0.8001, 67.86,0.7929, 67.32,0.7863, 66.77,0.7845, 66.50,0.7857]],
  'JBP': [[66.30,0.7840, 66.35,0.7941, 66.88,0.8058, 67.52,0.8140, 67.88,0.8155, 68.05,0.8140, 68.25,0.8025, 68.02,0.7895, 67.58,0.7822, 66.97,0.7798, 66.50,0.7797],
          [66.52,0.7893, 66.80,0.7989, 67.33,0.8052, 67.78,0.8079, 68.00,0.8064, 68.05,0.8001, 67.84,0.7930, 67.33,0.7865, 66.80,0.7847, 66.55,0.7858]],
  'FSLL I': [[66.17,0.7842, 66.25,0.7941, 66.82,0.8063, 67.48,0.8150, 67.88,0.8163, 68.09,0.8148, 68.32,0.8025, 68.08,0.7890, 67.60,0.7816, 66.92,0.7792, 66.40,0.7790],
             [66.44,0.7891, 66.75,0.7990, 67.32,0.8057, 67.79,0.8085, 68.04,0.8069, 68.09,0.8001, 67.87,0.7927, 67.32,0.7861, 66.76,0.7843, 66.49,0.7855]],
  'FSLL II': [[66.20,0.7845, 66.28,0.7941, 66.85,0.8061, 67.51,0.8146, 67.90,0.8160, 68.09,0.8146, 68.32,0.8025, 68.08,0.7893, 67.61,0.7820, 66.95,0.7796, 66.43,0.7794],
              [66.46,0.7893, 66.77,0.7989, 67.33,0.8055, 67.80,0.8083, 68.04,0.8067, 68.09,0.8001, 67.87,0.7929, 67.33,0.7863, 66.78,0.7845, 66.51,0.7857]],
  'BA': [[65.844,0.7833, 66.081,0.7941, 66.744,0.8049, 67.502,0.8122, 67.976,0.8137, 68.308,0.8110, 68.355,0.8013, 68.071,0.7905, 67.502,0.7808, 66.744,0.7770, 66.175,0.7772],
         [66.40,0.7880, 66.74,0.7975, 67.30,0.8045, 67.75,0.8072, 68.00,0.8057, 68.05,0.7995, 67.80,0.7920, 67.25,0.7855, 66.70,0.7835, 66.45,0.7845]],
  'Log': [[66.00,0.7845, 66.20,0.7945, 66.80,0.8060, 67.50,0.8140, 67.95,0.8155, 68.25,0.8135, 68.35,0.8030, 68.10,0.7905, 67.55,0.7818, 66.85,0.7785, 66.25,0.7785],
          [66.42,0.7888, 66.75,0.7985, 67.31,0.8052, 67.78,0.8080, 68.05,0.8064, 68.10,0.7999, 67.86,0.7926, 67.30,0.7861, 66.74,0.7843, 66.46,0.7853]],
  'EXP': [[65.844,0.7869, 66.081,0.7965, 66.744,0.8073, 67.502,0.8146, 68.071,0.8164, 68.545,0.8146, 68.592,0.8049, 68.355,0.7929, 67.882,0.7845, 67.123,0.7796, 66.365,0.7784, 65.938,0.7808],
          [66.412,0.7893, 66.744,0.7989, 67.313,0.8055, 67.787,0.8083, 68.071,0.8067, 68.118,0.8001, 67.882,0.7929, 67.313,0.7863, 66.744,0.7845, 66.460,0.7857]]
};
const Om_s8 = {
  'CPL': [[0.2975,0.8073, 0.3002,0.8140, 0.3051,0.8158, 0.3104,0.8122, 0.3158,0.8037, 0.3194,0.7929, 0.3194,0.7833, 0.3158,0.7796, 0.3096,0.7808, 0.3024,0.7881, 0.2984,0.7965],
          [0.3017,0.8037, 0.3052,0.8078, 0.3102,0.8060, 0.3152,0.7990, 0.3176,0.7920, 0.3168,0.7860, 0.3127,0.7853, 0.3068,0.7905, 0.3025,0.7965]],
  'JBP': [[0.2972,0.8070, 0.2998,0.8136, 0.3046,0.8155, 0.3098,0.8118, 0.3150,0.8033, 0.3184,0.7928, 0.3183,0.7835, 0.3148,0.7800, 0.3090,0.7810, 0.3020,0.7882, 0.2980,0.7965],
          [0.3014,0.8035, 0.3048,0.8075, 0.3097,0.8058, 0.3146,0.7988, 0.3169,0.7920, 0.3161,0.7862, 0.3122,0.7855, 0.3064,0.7906, 0.3022,0.7964]],
  'FSLL I': [[0.2976,0.8075, 0.3003,0.8142, 0.3053,0.8160, 0.3107,0.8123, 0.3161,0.8037, 0.3197,0.7928, 0.3196,0.7830, 0.3160,0.7793, 0.3097,0.7805, 0.3025,0.7879, 0.2985,0.7965],
             [0.3018,0.8038, 0.3053,0.8080, 0.3104,0.8061, 0.3154,0.7990, 0.3178,0.7919, 0.3170,0.7858, 0.3129,0.7851, 0.3069,0.7904, 0.3026,0.7965]],
  'FSLL II': [[0.2974,0.8073, 0.3001,0.8140, 0.3050,0.8158, 0.3103,0.8122, 0.3157,0.8037, 0.3193,0.7929, 0.3193,0.7833, 0.3157,0.7796, 0.3095,0.7808, 0.3023,0.7881, 0.2983,0.7965],
              [0.3016,0.8037, 0.3051,0.8078, 0.3101,0.8060, 0.3151,0.7990, 0.3175,0.7920, 0.3167,0.7860, 0.3126,0.7853, 0.3067,0.7905, 0.3024,0.7965]],
  'BA': [[0.2979,0.8061, 0.3015,0.8122, 0.3069,0.8134, 0.3131,0.8086, 0.3203,0.7977, 0.3243,0.7881, 0.3230,0.7784, 0.3176,0.7770, 0.3104,0.7808, 0.3033,0.7869, 0.2984,0.7965],
         [0.3025,0.8030, 0.3060,0.8068, 0.3112,0.8052, 0.3165,0.7982, 0.3190,0.7910, 0.3180,0.7852, 0.3135,0.7846, 0.3075,0.7898, 0.3030,0.7958]],
  'Log': [[0.2975,0.8067, 0.3005,0.8137, 0.3058,0.8155, 0.3118,0.8115, 0.3180,0.8020, 0.3225,0.7920, 0.3228,0.7845, 0.3200,0.7790, 0.3140,0.7800, 0.3070,0.7850, 0.3005,0.7925, 0.2978,0.7990],
          [0.3018,0.8035, 0.3053,0.8077, 0.3106,0.8058, 0.3160,0.7986, 0.3186,0.7914, 0.3177,0.7855, 0.3132,0.7849, 0.3071,0.7902, 0.3026,0.7962]],
  'EXP': [[0.2971,0.8061, 0.2997,0.8134, 0.3051,0.8158, 0.3113,0.8122, 0.3176,0.8025, 0.3229,0.7929, 0.3243,0.7857, 0.3221,0.7784, 0.3167,0.7796, 0.3087,0.7845, 0.3015,0.7905, 0.2975,0.7977],
          [0.3015,0.8037, 0.3051,0.8080, 0.3104,0.8061, 0.3158,0.7989, 0.3185,0.7917, 0.3176,0.7857, 0.3131,0.7851, 0.3069,0.7905, 0.3024,0.7965]]
};

// lookup tables built from the arrays above
const params = ['w0', 'wa', 'H0', 'Om', 's8'];
const ranges = { w0: w0Range, wa: waRange, H0: H0Range, Om: OmRange, s8: s8Range };
const ticks = { w0: [w0Ticks, w0Labels], wa: [waTicks, waLabels], H0: [H0Ticks, H0Labels], Om: [OmTicks, OmLabels], s8: [s8Ticks, s8Labels] };
const marg = { w0: w0_1d, wa: wa_1d, H0: H0_1d, Om: Om_1d, s8: s8_1d };
const cont = { w0_wa, w0_H0, w0_Om, w0_s8, wa_H0, wa_Om, wa_s8, H0_Om, H0_s8, Om_s8 };

const X = [59, 247, 435, 623, 812, 1000];
const Y = [62, 253, 444, 635, 826, 1016];
const M = 6, LW = 53, BH = 46;
const ALPHA_IN = 0.5, ALPHA_OUT = 0.55, PALE = 0.66;

Chart.defaults.font.family = '"DejaVu Sans", sans-serif';
Chart.defaults.font.size = 10;
Chart.defaults.color = '#222';

const pts = flat => { const out = []; for (let i = 0; i < flat.length; i += 2) out.push({ x: flat[i], y: flat[i + 1] }); return out; };
const rgba = (c, a) => `rgba(${c[0]},${c[1]},${c[2]},${a})`;
const pale = c => c.map(v => Math.round(v * (1 - PALE) + 255 * PALE));

function axis(p, show, isX) {
  const [vals, labs] = ticks[p];
  return {
    type: 'linear', min: ranges[p][0], max: ranges[p][1], display: show,
    grid: { display: false, drawTicks: false }, border: { display: false },
    afterBuildTicks: s => { s.ticks = vals.map(v => ({ value: v })); },
    afterFit: s => {
      if (!show) return;
      if (isX) s.height = BH; else s.width = LW;
      s.paddingLeft = s.paddingRight = s.paddingTop = s.paddingBottom = 0;
    },
    ticks: { padding: isX ? 5 : 6, color: '#222', callback: v => labs[vals.indexOf(v)] }
  };
}

function framePlugin(xp, yp, yId) {
  return {
    id: 'frame',
    afterDatasetsDraw(chart) {
      const { ctx, chartArea: a, scales } = chart;
      ctx.save();
      ctx.strokeStyle = '#2a2a2a';
      ctx.lineWidth = 1.2;
      ctx.strokeRect(a.left, a.top, a.right - a.left, a.bottom - a.top);
      ctx.lineWidth = 1;
      ctx.beginPath();
      for (const v of ticks[xp][0]) {
        const x = Math.round(scales.x.getPixelForValue(v)) + 0.5;
        ctx.moveTo(x, a.bottom - 3.5); ctx.lineTo(x, a.bottom + 3.5);
      }
      if (yp) for (const v of ticks[yp][0]) {
        const y = Math.round(scales[yId].getPixelForValue(v)) + 0.5;
        ctx.moveTo(a.left - 3.5, y); ctx.lineTo(a.left + 3.5, y);
      }
      ctx.stroke();
      ctx.restore();
    }
  };
}

function makePanel(r, c) {
  const padL = c === 0 ? LW : 0, padB = r === 4 ? BH : 0;
  const cv = document.createElement('canvas');
  cv.width = X[c + 1] - X[c] + 2 * M + padL;
  cv.height = Y[r + 1] - Y[r] + 2 * M + padB;
  cv.style.left = (X[c] - M - padL) + 'px';
  cv.style.top = (Y[r] - M) + 'px';
  document.getElementById('page').appendChild(cv);

  const xp = params[c], yp = params[r];
  const yShown = c === 0 && r > 0;
  const datasets = [];
  const scales = { x: axis(xp, r === 4, true) };
  let yId = 'y', yTicks = null;

  if (r === c) {
    // 1D marginal
    scales.y = { type: 'linear', min: 0, max: 1.1, display: false };
    if (r > 0) { scales.yr = { type: 'linear', min: ranges[yp][0], max: ranges[yp][1], display: false }; yId = 'yr'; yTicks = yp; }
    for (let i = models.length - 1; i >= 0; i--) {
      datasets.push({
        data: pts(marg[xp][models[i]]), showLine: true, pointRadius: 0, borderWidth: 1,
        borderColor: rgba(rgb[i], 1), fill: false, cubicInterpolationMode: 'monotone'
      });
    }
  } else {
    scales.y = axis(yp, yShown, false);
    yTicks = yp;
    const data = cont[xp + '_' + yp];
    for (let i = models.length - 1; i >= 0; i--) {
      const [outer, inner] = data[models[i]];
      [[inner, rgba(rgb[i], ALPHA_IN)], [outer, rgba(pale(rgb[i]), ALPHA_OUT)]].forEach(([poly, col]) => {
        const p = pts(poly); p.push({ ...p[0] });
        datasets.push({
          data: p, showLine: true, pointRadius: 0, borderWidth: 0.8,
          borderColor: rgba(rgb[i], 0.8), backgroundColor: col,
          fill: 'shape', tension: 0.3
        });
      });
    }
  }

  new Chart(cv, {
    type: 'scatter',
    data: { datasets },
    options: {
      responsive: false, animation: false, events: [], devicePixelRatio: 1,
      layout: { padding: { left: M + (c === 0 && !yShown ? LW : 0), right: M, top: M, bottom: M } },
      plugins: { legend: { display: false }, tooltip: { enabled: false } },
      scales
    },
    plugins: [framePlugin(xp, yTicks, yId)]
  });
}

for (let r = 0; r < 5; r++) for (let c = 0; c <= r; c++) makePanel(r, c);

// legend
const leg = document.getElementById('legend');
models.forEach((m, i) => {
  leg.insertAdjacentHTML('beforeend', `<div class="row"><span class="sw" style="background:${legendColors[i]}"></span>${m}</div>`);
});

// axis titles
const titles = ['<i>w</i><sub>0</sub>', '<i>w</i><sub>a</sub>', '<i>H</i><sub>0</sub>', '\u03a9<sub>m</sub>', '<i>\u03c3</i><sub>8</sub>'];
const leftX = [0, 13, 24, 14, 15];
const page = document.getElementById('page');
for (let k = 0; k < 5; k++) {
  page.insertAdjacentHTML('beforeend', `<div class="lab" style="left:${(X[k] + X[k + 1]) / 2}px;top:1048px">${titles[k]}</div>`);
  if (k > 0) page.insertAdjacentHTML('beforeend', `<div class="lab rot" style="left:${leftX[k]}px;top:${(Y[k] + Y[k + 1]) / 2}px">${titles[k]}</div>`);
}
</script>
</body>
</html>
